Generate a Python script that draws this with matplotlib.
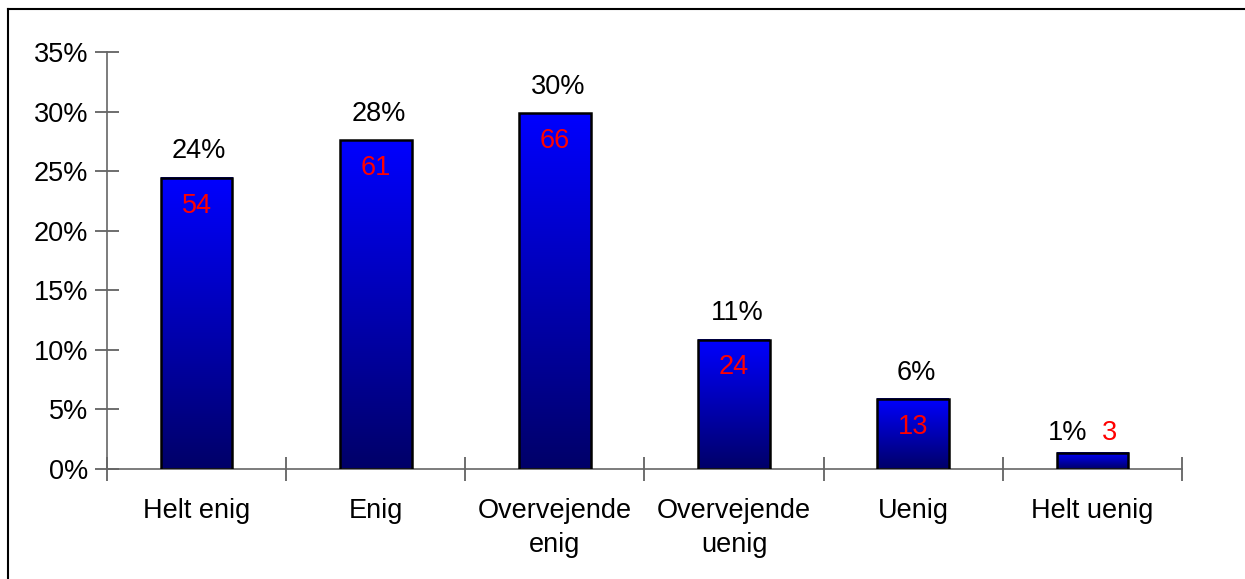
import matplotlib.pyplot as plt
import numpy as np
from matplotlib.colors import LinearSegmentedColormap
from matplotlib.lines import Line2D

plt.rcParams['font.family'] = ['Liberation Sans', 'DejaVu Sans']

categories = ['Helt enig', 'Enig', 'Overvejende\nenig', 'Overvejende\nuenig', 'Uenig', 'Helt uenig']
counts = [54, 61, 66, 24, 13, 3]
total = sum(counts)
shares = [c / total for c in counts]
pct_labels = ['24%', '28%', '30%', '11%', '6%', '1%']

fs = 19.5

fig = plt.figure(figsize=(12.45, 5.79), dpi=100)
ax = fig.add_axes([0.0859, 0.19, 0.8635, 0.7202])

x = np.arange(len(categories))
width = 0.4
bars = ax.bar(x, shares, width=width, color='none', edgecolor='black', linewidth=1.8, zorder=3)

# vertical gradient: bright blue on top, navy at bottom
cmap = LinearSegmentedColormap.from_list('blu', ['#000068', '#0000FF'])
grad = np.linspace(0, 1, 256).reshape(-1, 1)
for b in bars:
    x0, y0 = b.get_x(), b.get_y()
    w, h = b.get_width(), b.get_height()
    ax.imshow(grad, cmap=cmap, origin='lower', aspect='auto',
              extent=[x0, x0 + w, y0, y0 + h], zorder=2)

ax.set_xlim(-0.5, len(categories) - 0.5)
ax.set_ylim(0, 0.35)

for i, (s, c, p) in enumerate(zip(shares, counts, pct_labels)):
    if i == len(categories) - 1:
        ax.annotate(p, (i, s), xytext=(-18, 14), textcoords='offset points',
                    ha='center', va='center', fontsize=fs)
        ax.annotate(str(c), (i, s), xytext=(12, 14), textcoords='offset points',
                    ha='center', va='center', fontsize=fs, color='red')
    else:
        ax.annotate(p, (i, s), xytext=(2, 19), textcoords='offset points',
                    ha='center', va='center', fontsize=fs)
        ax.annotate(str(c), (i, s), xytext=(0, -20), textcoords='offset points',
                    ha='center', va='center', fontsize=fs, color='red', zorder=5)

ax.set_yticks(np.arange(0, 0.351, 0.05))
ax.set_yticklabels([f'{int(round(v * 100))}%' for v in np.arange(0, 0.351, 0.05)], fontsize=fs)
ax.set_xticks(x)
ax.set_xticklabels(categories, fontsize=fs, linespacing=1.4)
ax.tick_params(axis='x', length=0, pad=21)
ax.set_xticks(np.arange(-0.5, len(categories)), minor=True)
ax.tick_params(axis='x', which='minor', direction='inout', length=17, color='#555555', width=1.2)
ax.tick_params(axis='y', direction='inout', length=17, color='#555555', width=1.2, pad=5)

for sp in ['top', 'right']:
    ax.spines[sp].set_visible(False)
for sp in ['left', 'bottom']:
    ax.spines[sp].set_color('#666666')
    ax.spines[sp].set_linewidth(1.2)

# outer frame (left and top only visible)
fig.add_artist(Line2D([8 / 1245, 8 / 1245], [0, 1 - 9 / 579], color='black', lw=1.5))
fig.add_artist(Line2D([8 / 1245, 1], [1 - 9 / 579, 1 - 9 / 579], color='black', lw=1.5))

fig.savefig('out.png', dpi=100)
